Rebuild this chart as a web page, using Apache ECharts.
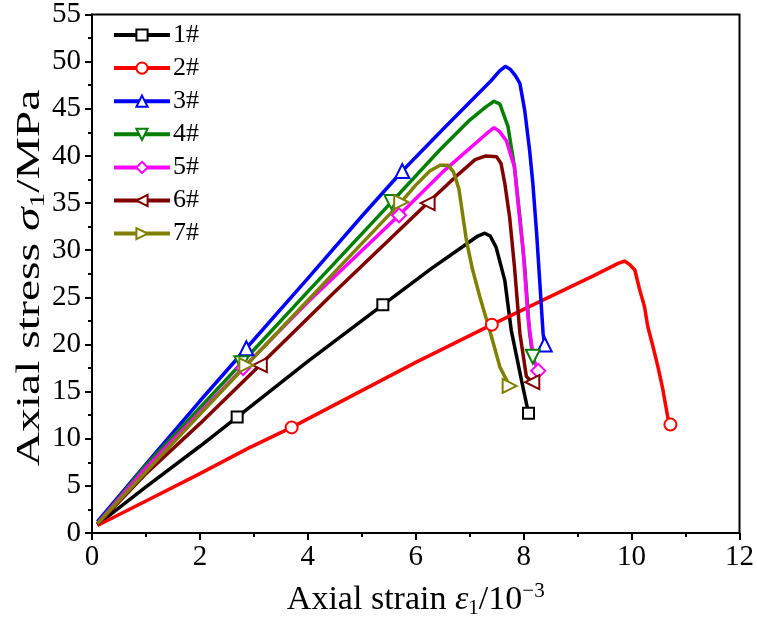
<!DOCTYPE html>
<html>
<head>
<meta charset="utf-8">
<title>Axial stress-strain curves</title>
<script src="https://cdn.jsdelivr.net/npm/echarts@6/dist/echarts.min.js"></script>
<style>
  html, body { margin: 0; padding: 0; background: #fff; }
  #chart { width: 757px; height: 644px; }
</style>
</head>
<body>
<div id="chart"></div>
<script>
// 试样名称
const names = ['1#', '2#', '3#', '4#', '5#', '6#', '7#']

// 各试样的应变 (10^-3) 与应力 (MPa)
const x1 = [0.1, 1, 2, 2.69, 4, 5.39, 6.3, 6.9, 7.15, 7.28, 7.38, 7.49, 7.65, 7.77, 7.96, 8.09]
const y1 = [0.9, 4.9, 9.2, 12.3, 18.2, 24.2, 28.1, 30.5, 31.5, 31.8, 31.5, 30.3, 26.8, 21.5, 16.2, 12.7]
const m1 = [3, 5, 15]

const x2 = [0.1, 1, 2, 2.9, 3.7, 5, 6, 7.41, 8.5, 9.3, 9.75, 9.87, 9.96, 10.06, 10.15, 10.24, 10.3, 10.4, 10.49, 10.58, 10.67, 10.72]
const y2 = [0.8, 3.4, 6.3, 9, 11.2, 15.1, 18.1, 22.1, 25.1, 27.3, 28.6, 28.85, 28.5, 27.9, 25.8, 24, 21.9, 19.7, 17.6, 15.2, 12.3, 11.5]
const m2 = [4, 7, 21]

const x3 = [0.1, 1, 2, 2.86, 4, 5, 5.75, 6.5, 7, 7.4, 7.55, 7.66, 7.75, 7.85, 7.93, 8.02, 8.11, 8.17, 8.24, 8.3, 8.36, 8.39]
const y3 = [1.2, 7.3, 14, 19.6, 27, 33.6, 38.4, 42.8, 45.7, 48, 49, 49.5, 49.2, 48.5, 47.7, 44.8, 40.6, 37.1, 31.8, 26.5, 21.2, 20]
const m3 = [3, 6, 21]

const x4 = [0.1, 1, 2, 2.77, 4, 5.55, 6.44, 7, 7.3, 7.45, 7.56, 7.71, 7.83, 7.93, 8.02, 8.11, 8.17]
const y4 = [1, 7.2, 13.3, 18, 25.6, 35.1, 40.6, 43.8, 45.2, 45.8, 45.5, 43.1, 38.8, 33.5, 28.2, 21.2, 18.7]
const m4 = [3, 5, 16]

const x5 = [0.1, 1, 2, 2.8, 4, 5.69, 6.5, 7, 7.3, 7.45, 7.55, 7.68, 7.83, 7.89, 7.99, 8.08, 8.18, 8.27]
const y5 = [1, 6.9, 12.8, 17.5, 24.5, 33.7, 38.3, 40.8, 42.3, 43, 42.6, 41.6, 38.8, 35.3, 30, 22.9, 18.5, 17.2]
const m5 = [3, 5, 17]

const x6 = [0.1, 1, 2, 3.11, 4.5, 6.22, 6.8, 7.1, 7.3, 7.5, 7.58, 7.65, 7.74, 7.83, 7.93, 8.05, 8.16]
const y6 = [0.9, 6.3, 11.6, 17.8, 25.6, 35, 38.1, 39.6, 40, 39.9, 39.2, 37.1, 33.5, 28.2, 21.2, 16.6, 16]
const m6 = [3, 5, 16]

const x7 = [0.1, 1, 2, 2.86, 4.5, 5.73, 6, 6.26, 6.45, 6.6, 6.7, 6.8, 6.94, 7.05, 7.19, 7.37, 7.56, 7.74]
const y7 = [1, 6.5, 12.6, 17.8, 27.7, 35.1, 36.9, 38.4, 39, 39, 38.3, 36.5, 31, 28, 25, 21.5, 17.6, 15.6]
const m7 = [3, 5, 17]

const colors = ['#000000', '#ff0000', '#0000ff', '#008000', '#ff00ff', '#800000', '#808000']
const symbols = ['emptyRect', 'emptyCircle', 'emptyTriangle', 'emptyTriangle', 'emptyDiamond', 'emptyTriangle', 'emptyTriangle']
const rotates = [0, 0, 0, 180, 0, 90, -90]
const sizes = [11, 12, 14, 14, 14, 14, 14]

const xs = [x1, x2, x3, x4, x5, x6, x7]
const ys = [y1, y2, y3, y4, y5, y6, y7]
const ms = [m1, m2, m3, m4, m5, m6, m7]

const serif = 'Liberation Serif'

// 组装曲线数据,只在指定点显示符号
function buildData(xArr, yArr, marks) {
  return xArr.map((x, i) => {
    const item = { value: [x, yArr[i]] }
    if (marks.indexOf(i) < 0) item.symbol = 'none'
    return item
  })
}

const series = names.map((name, k) => ({
  name: name,
  type: 'line',
  data: buildData(xs[k], ys[k], ms[k]),
  symbol: symbols[k],
  symbolSize: sizes[k],
  symbolRotate: rotates[k],
  showSymbol: true,
  showAllSymbol: true,
  clip: false,
  color: colors[k],
  lineStyle: { color: colors[k], width: 3.5 },
  itemStyle: { color: colors[k], borderColor: colors[k], borderWidth: 1 },
  emphasis: { disabled: true },
  animation: false
}))

const chart = echarts.init(document.getElementById('chart'))
chart.setOption({
  backgroundColor: '#fff',
  animation: false,
  grid: {
    left: 92, right: 16, top: 14, bottom: 111,
    show: true, borderColor: '#000', borderWidth: 2
  },
  legend: {
    orient: 'vertical',
    left: 107, top: 17,
    itemWidth: 56, itemHeight: 14, itemGap: 7.1,
    lineStyle: { width: 4 },
    textStyle: { fontFamily: serif, fontSize: 26, lineHeight: 20, color: '#000', padding: [0, 0, 0, -2] },
    data: names
  },
  // y轴标题用文字元素,方便拉伸
  graphic: [{
    type: 'text',
    x: 30, y: 278,
    rotation: Math.PI / 2,
    scaleX: 1.4,
    style: {
      text: '{t|Axial stress }{i|σ}{s|1}{t|/MPa}',
      align: 'center',
      verticalAlign: 'middle',
      rich: {
        t: { fontFamily: serif, fontSize: 34, fill: '#000', lineHeight: 38 },
        i: { fontFamily: serif, fontSize: 34, fontStyle: 'italic', fill: '#000', lineHeight: 38 },
        s: { fontFamily: serif, fontSize: 21, fill: '#000', lineHeight: 18, verticalAlign: 'bottom' }
      }
    }
  }],
  xAxis: {
    type: 'value',
    min: 0, max: 12, interval: 2,
    name: '{t|Axial strain }{i|ε}{s|1}{t|/10}{p|−3}',
    nameLocation: 'middle',
    nameGap: 48,
    nameTextStyle: {
      rich: {
        t: { fontFamily: serif, fontSize: 34, color: '#000', lineHeight: 38 },
        i: { fontFamily: serif, fontSize: 34, fontStyle: 'italic', color: '#000', lineHeight: 38 },
        s: { fontFamily: serif, fontSize: 21, color: '#000', lineHeight: 18, verticalAlign: 'bottom' },
        p: { fontFamily: serif, fontSize: 21, color: '#000', lineHeight: 18, verticalAlign: 'top' }
      }
    },
    axisLine: { lineStyle: { color: '#000', width: 2 } },
    axisTick: { length: 7, lineStyle: { width: 2 } },
    minorTick: { show: true, splitNumber: 2, length: 4, lineStyle: { color: '#000', width: 2 } },
    splitLine: { show: false },
    axisLabel: { fontFamily: serif, fontSize: 29, color: '#000', margin: 10 }
  },
  yAxis: {
    type: 'value',
    min: 0, max: 55, interval: 5,
    axisLine: { lineStyle: { color: '#000', width: 2 } },
    axisTick: { length: 7, lineStyle: { width: 2 } },
    minorTick: { show: true, splitNumber: 2, length: 4, lineStyle: { color: '#000', width: 2 } },
    splitLine: { show: false },
    axisLabel: { fontFamily: serif, fontSize: 29, color: '#000', margin: 11 }
  },
  series: series
})
</script>
</body>
</html>
